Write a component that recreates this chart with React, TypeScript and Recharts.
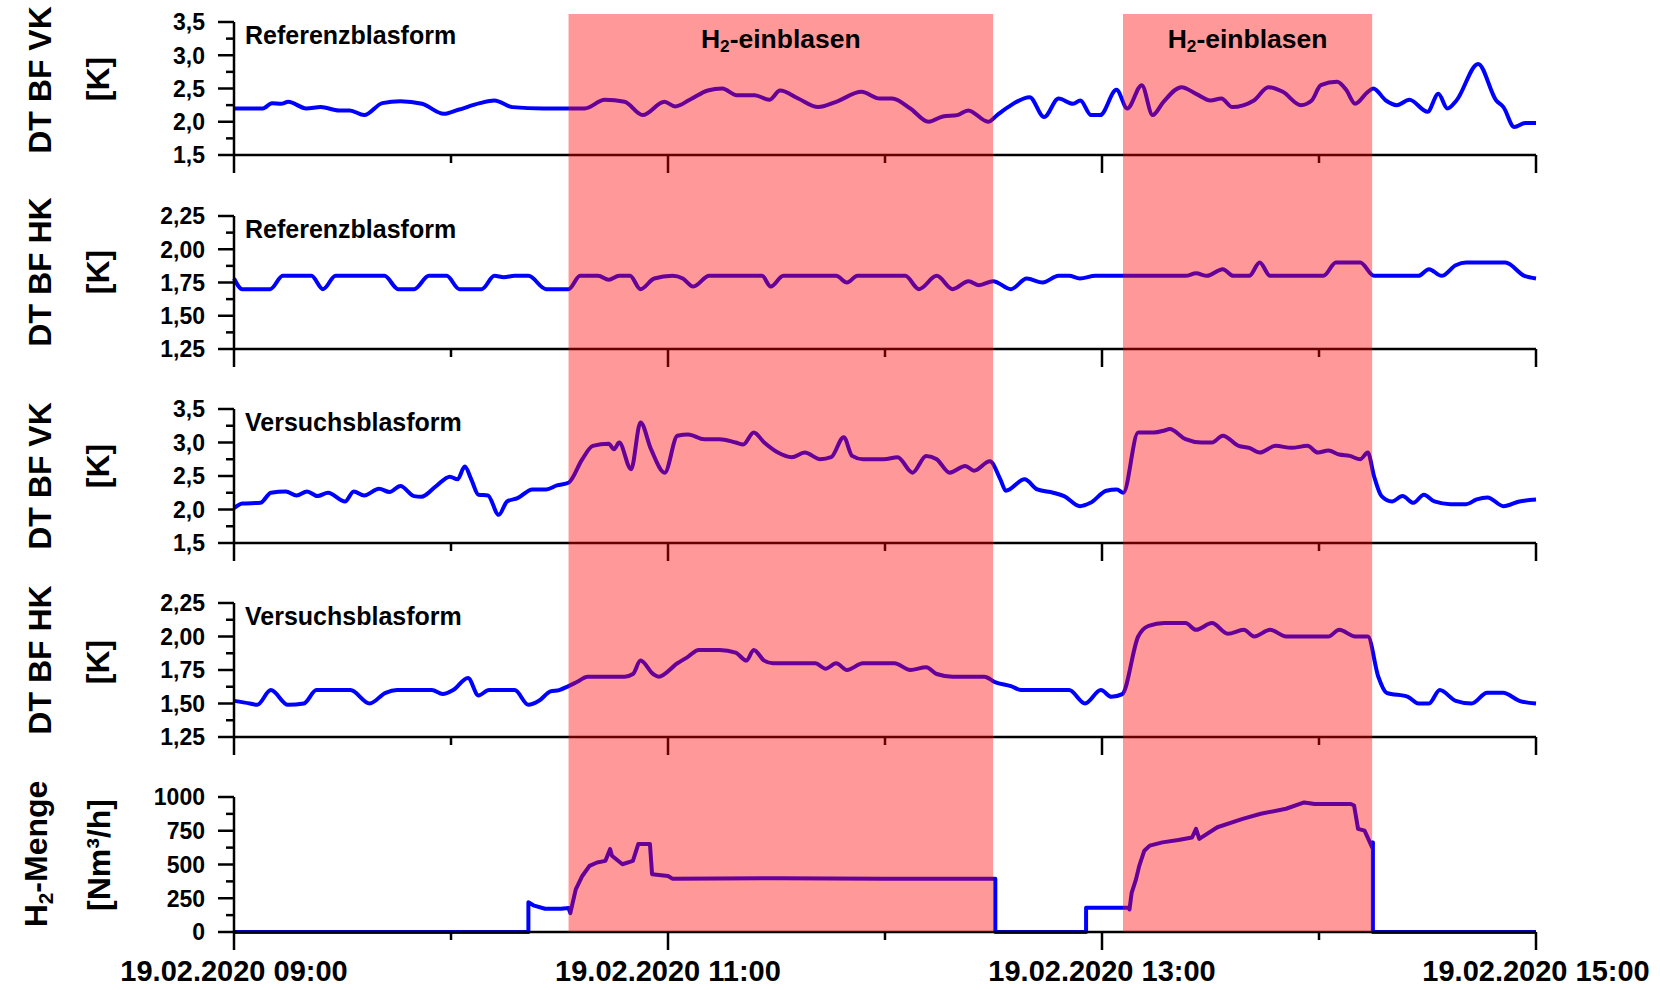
import React from 'react';
import { LineChart, Line, XAxis, YAxis, ComposedChart, ReferenceArea } from 'recharts';

const FONT = "'Liberation Sans', Arial, Helvetica, sans-serif";
const W = 1660;
const H = 990;
const PLOT_LEFT = 234;
const PLOT_RIGHT = 1536;
const X_AXIS_H = 30;
const Y_AXIS_W = 60;

// time axis: minutes after 19.02.2020 09:00
const timeTicks = [0, 60, 120, 180, 240, 300, 360];
const timeLabels = ['19.02.2020 09:00', '', '19.02.2020 11:00', '', '19.02.2020 13:00', '', '19.02.2020 15:00'];

const vkTicks = [1.5, 1.75, 2, 2.25, 2.5, 2.75, 3, 3.25, 3.5];
const vkTickLabels = ['1,5', '', '2,0', '', '2,5', '', '3,0', '', '3,5'];
const hkTicks = [1.25, 1.375, 1.5, 1.625, 1.75, 1.875, 2, 2.125, 2.25];
const hkTickLabels = ['1,25', '', '1,50', '', '1,75', '', '2,00', '', '2,25'];
const h2Ticks = [0, 125, 250, 375, 500, 625, 750, 875, 1000];
const h2TickLabels = ['0', '', '250', '', '500', '', '750', '', '1000'];

// injection periods (minutes after 09:00)
const shadeStarts = [92.5, 245.8];
const shadeEnds = [209.9, 314.7];

// DT BF VK – Referenzblasform
const refVkT = [0, 8, 10.5, 13, 15, 20, 24, 29, 32, 36, 41, 46, 52, 58, 62, 68, 72, 77, 85.5, 90.5, 97, 102.5, 108, 113, 119, 122, 126, 131, 135, 139, 144, 148, 151, 156, 161.5, 166.5, 173.5, 178.5, 182, 187, 192, 196, 200, 203, 208.5, 211, 214, 220, 224, 228, 232, 234, 237, 239.5, 244, 247, 251, 254, 257, 262, 266, 270, 273, 276, 282, 286, 290, 295, 298, 300.5, 305, 307.5, 310, 313.5, 315, 318.5, 321.5, 325, 330, 333, 335.5, 338, 344, 349, 351, 354, 357, 360];
const refVkV = [2.2, 2.2, 2.28, 2.27, 2.3, 2.2, 2.22, 2.17, 2.17, 2.1, 2.28, 2.31, 2.27, 2.12, 2.18, 2.28, 2.32, 2.22, 2.2, 2.2, 2.2, 2.33, 2.3, 2.1, 2.3, 2.23, 2.33, 2.47, 2.5, 2.4, 2.4, 2.33, 2.47, 2.35, 2.22, 2.3, 2.45, 2.35, 2.35, 2.2, 2.0, 2.08, 2.1, 2.17, 2.0, 2.1, 2.22, 2.37, 2.07, 2.35, 2.27, 2.32, 2.1, 2.1, 2.48, 2.2, 2.55, 2.1, 2.3, 2.52, 2.42, 2.32, 2.35, 2.22, 2.32, 2.52, 2.45, 2.25, 2.32, 2.55, 2.6, 2.48, 2.27, 2.45, 2.5, 2.32, 2.25, 2.33, 2.15, 2.42, 2.2, 2.32, 2.87, 2.32, 2.22, 1.92, 1.98, 1.98];

// DT BF HK – Referenzblasform
const refHkT = [0, 2.3, 10, 13.5, 21.4, 24.6, 28.1, 41.6, 45.4, 49.8, 53.9, 58.8, 62.3, 68.5, 72, 74.6, 77.6, 81.4, 86.3, 92.5, 95.7, 100.7, 103.6, 106.5, 109.5, 112.4, 116.2, 121.2, 124.1, 127, 131.4, 146, 148.4, 151.9, 166.5, 169.5, 172.4, 185.6, 189.4, 194.3, 198.7, 203.1, 206, 209.9, 214.8, 219.2, 223.6, 228, 230.9, 233.9, 238.2, 263.1, 266, 269, 273.4, 276.3, 280.7, 283.6, 286.5, 301.2, 304.7, 311.4, 315.2, 327.5, 330.4, 333.9, 337.8, 340.7, 351.5, 356.8, 360];
const refHkV = [1.78, 1.7, 1.7, 1.8, 1.8, 1.7, 1.8, 1.8, 1.7, 1.7, 1.8, 1.8, 1.7, 1.7, 1.8, 1.79, 1.8, 1.8, 1.7, 1.7, 1.8, 1.8, 1.77, 1.8, 1.8, 1.7, 1.78, 1.8, 1.78, 1.72, 1.8, 1.8, 1.72, 1.8, 1.8, 1.75, 1.8, 1.8, 1.7, 1.8, 1.7, 1.76, 1.73, 1.76, 1.7, 1.78, 1.75, 1.8, 1.8, 1.78, 1.8, 1.8, 1.82, 1.8, 1.85, 1.8, 1.8, 1.9, 1.8, 1.8, 1.9, 1.9, 1.8, 1.8, 1.85, 1.8, 1.88, 1.9, 1.9, 1.8, 1.78];

// DT BF VK – Versuchsblasform
const versVkT = [0, 2.3, 7.3, 10.2, 14.3, 17.3, 20.2, 23.1, 26, 30.7, 33.1, 36, 40.1, 43, 46, 49.8, 51.8, 55.9, 59.7, 61.8, 63.8, 65.6, 67.6, 70.2, 73.2, 75.5, 78.4, 82.5, 86.3, 89.3, 92.5, 96.3, 99.2, 103.6, 105.1, 106.5, 109.8, 112.4, 115.3, 119.1, 122.6, 125.6, 130, 134.3, 138.7, 140.8, 143.7, 146.6, 150.4, 154.2, 157.8, 162.1, 165.1, 168.6, 170.9, 173.9, 179.7, 183.5, 187.6, 191.4, 194.3, 197.9, 202.2, 204.6, 209, 211.9, 213.4, 218.6, 222.1, 226.5, 229.5, 233.9, 236.8, 241.2, 244.1, 245.9, 250, 254.3, 257.3, 258.7, 263.1, 267.5, 270.4, 273.4, 277.8, 280.7, 283.6, 288, 292.4, 296.8, 299.7, 302.6, 305.6, 308.5, 311.4, 313.5, 315.2, 317.3, 320.2, 323.1, 326.1, 329, 331.9, 336.3, 340.7, 343.6, 346.6, 351, 355.4, 360];
const versVkV = [2.02, 2.09, 2.1, 2.25, 2.27, 2.21, 2.27, 2.2, 2.25, 2.12, 2.27, 2.21, 2.31, 2.26, 2.35, 2.2, 2.19, 2.35, 2.49, 2.45, 2.64, 2.45, 2.22, 2.21, 1.92, 2.12, 2.17, 2.3, 2.3, 2.36, 2.4, 2.75, 2.95, 2.98, 2.9, 3.0, 2.6, 3.3, 2.9, 2.55, 3.1, 3.12, 3.05, 3.05, 3.0, 2.97, 3.15, 3.0, 2.85, 2.78, 2.85, 2.75, 2.78, 3.08, 2.8, 2.75, 2.75, 2.78, 2.55, 2.8, 2.75, 2.55, 2.65, 2.58, 2.72, 2.45, 2.28, 2.45, 2.3, 2.25, 2.2, 2.05, 2.1, 2.28, 2.3, 2.25, 3.15, 3.15, 3.18, 3.2, 3.05, 3.0, 3.0, 3.1, 2.95, 2.92, 2.85, 2.95, 2.92, 2.95, 2.85, 2.88, 2.82, 2.8, 2.75, 2.85, 2.5, 2.2, 2.12, 2.2, 2.1, 2.22, 2.12, 2.08, 2.08, 2.15, 2.18, 2.05, 2.12, 2.15];

// DT BF HK – Versuchsblasform
const versHkT = [0, 4.4, 6.4, 10.2, 14.9, 19.3, 22.8, 32.2, 37.5, 41.9, 45.1, 54.7, 57.7, 60.6, 64.7, 67.6, 70.5, 77.6, 81.4, 84.3, 87.5, 89.9, 92.5, 94.8, 97.8, 108, 110.3, 112.4, 115.9, 117.4, 122.6, 125.6, 128.5, 134.3, 138.7, 141.7, 143.7, 146.6, 149, 160.7, 163.6, 166.5, 169.5, 173.9, 182.6, 187, 191.4, 194.3, 198.7, 207.5, 210.4, 214.8, 217.8, 230.9, 235.3, 239.7, 242.6, 245.6, 250, 252.9, 257.3, 263.1, 266, 270.4, 274.8, 279.2, 282.1, 286.5, 290.9, 302.6, 305.6, 310, 313.5, 316.4, 318.7, 324.6, 327.5, 330.4, 333.4, 337.8, 342.2, 346.5, 350.9, 355.4, 360];
const versHkV = [1.52, 1.5, 1.49, 1.6, 1.49, 1.5, 1.6, 1.6, 1.5, 1.58, 1.6, 1.6, 1.57, 1.6, 1.69, 1.56, 1.6, 1.6, 1.49, 1.52, 1.59, 1.6, 1.63, 1.66, 1.7, 1.7, 1.72, 1.82, 1.72, 1.7, 1.8, 1.85, 1.9, 1.9, 1.88, 1.82, 1.9, 1.82, 1.8, 1.8, 1.76, 1.8, 1.75, 1.8, 1.8, 1.75, 1.77, 1.72, 1.7, 1.7, 1.66, 1.63, 1.6, 1.6, 1.5, 1.6, 1.55, 1.57, 2.0, 2.08, 2.1, 2.1, 2.05, 2.1, 2.02, 2.05, 2.0, 2.05, 2.0, 2.0, 2.05, 2.0, 2.0, 1.7, 1.58, 1.55, 1.5, 1.5, 1.6, 1.52, 1.5, 1.58, 1.58, 1.52, 1.5];

// H2-Menge [Nm³/h]
const h2T = [0, 81.4, 81.4, 83, 86, 90.4, 92.5, 93, 94.5, 96.3, 98.3, 100.4, 102.7, 104, 104.5, 107.4, 110.3, 111.8, 115, 115.6, 120, 121.2, 150, 180, 210.5, 210.5, 235.6, 235.6, 247.3, 247.6, 248.2, 249.4, 250.3, 251.7, 253.2, 256.7, 261.1, 264.9, 266, 266.9, 271.9, 278.9, 283.9, 290.9, 295.9, 298.8, 308.8, 309.7, 310.8, 312.6, 314.7, 314.9, 314.9, 360];
const h2V = [0, 0, 220, 195, 172, 172, 178, 140, 316, 415, 490, 515, 527, 614, 565, 502, 527, 652, 652, 428, 415, 395, 398, 395, 395, 0, 0, 180, 180, 167, 290, 390, 490, 602, 640, 664, 681, 700, 764, 690, 776, 838, 876, 913, 960, 948, 948, 937, 764, 751, 627, 664, 0, 0];

type Seg = { text: string; sub?: boolean };

interface PanelDef {
  top: number;
  bottom: number;
  domain: [number, number];
  ticks: number[];
  tickLabels: string[];
  title: Seg[];
  unit: Seg[];
  titleX: number;
  unitX: number;
  titleY: number;
  unitY: number;
  note?: string;
  t: number[];
  v: number[];
  curve: 'linear' | 'monotone';
  showXLabels: boolean;
}

const panels: PanelDef[] = [
  { top: 22, bottom: 155, domain: [1.5, 3.5], ticks: vkTicks, tickLabels: vkTickLabels, title: [{ text: 'DT BF VK' }], unit: [{ text: '[K]' }], titleX: 40, unitX: 98, titleY: 80, unitY: 79, note: 'Referenzblasform', t: refVkT, v: refVkV, curve: 'monotone', showXLabels: false },
  { top: 216, bottom: 349, domain: [1.25, 2.25], ticks: hkTicks, tickLabels: hkTickLabels, title: [{ text: 'DT BF HK' }], unit: [{ text: '[K]' }], titleX: 40, unitX: 98, titleY: 272, unitY: 272, note: 'Referenzblasform', t: refHkT, v: refHkV, curve: 'monotone', showXLabels: false },
  { top: 409, bottom: 543, domain: [1.5, 3.5], ticks: vkTicks, tickLabels: vkTickLabels, title: [{ text: 'DT BF VK' }], unit: [{ text: '[K]' }], titleX: 40, unitX: 98, titleY: 476, unitY: 466, note: 'Versuchsblasform', t: versVkT, v: versVkV, curve: 'monotone', showXLabels: false },
  { top: 603, bottom: 737, domain: [1.25, 2.25], ticks: hkTicks, tickLabels: hkTickLabels, title: [{ text: 'DT BF HK' }], unit: [{ text: '[K]' }], titleX: 40, unitX: 98, titleY: 660, unitY: 662, note: 'Versuchsblasform', t: versHkT, v: versHkV, curve: 'monotone', showXLabels: false },
  { top: 797, bottom: 932, domain: [0, 1000], ticks: h2Ticks, tickLabels: h2TickLabels, title: [{ text: 'H' }, { text: '2', sub: true }, { text: '-Menge' }], unit: [{ text: '[Nm³/h]' }], titleX: 36, unitX: 99, titleY: 854, unitY: 855, t: h2T, v: h2V, curve: 'linear', showXLabels: true },
];

function renderSegs(segs: Seg[], size: number) {
  const out: React.ReactNode[] = [];
  let shift = 0;
  segs.forEach((s, i) => {
    if (s.sub) {
      const d = size * 0.28;
      out.push(<tspan key={i} fontSize={size * 0.65} dy={d - shift}>{s.text}</tspan>);
      shift = d;
    } else {
      out.push(<tspan key={i} fontSize={size} dy={-shift}>{s.text}</tspan>);
      shift = 0;
    }
  });
  return out;
}

function makeXTick(showLabels: boolean) {
  return (props: any) => {
    const { x, y, payload } = props;
    const i = timeTicks.indexOf(payload.value);
    const label = timeLabels[i] ?? '';
    const major = i % 2 === 0;
    return (
      <g>
        <line x1={x} y1={y} x2={x} y2={y + (major ? 18 : 8)} stroke="#000" strokeWidth={2.5} />
        {showLabels && label ? (
          <text x={x} y={y + 49} textAnchor="middle" fontFamily={FONT} fontWeight="bold" fontSize={29} fill="#000">
            {label}
          </text>
        ) : null}
      </g>
    );
  };
}

function makeYTick(ticks: number[], labels: string[]) {
  return (props: any) => {
    const { x, y, payload } = props;
    const i = ticks.indexOf(payload.value);
    const label = labels[i] ?? '';
    const major = label !== '';
    return (
      <g>
        <line x1={x} y1={y} x2={x - (major ? 16 : 8)} y2={y} stroke="#000" strokeWidth={2.5} />
        {major ? (
          <text x={x - 29} y={y} dy="0.36em" textAnchor="end" fontFamily={FONT} fontWeight="bold" fontSize={23} fill="#000">
            {label}
          </text>
        ) : null}
      </g>
    );
  };
}

function makeTitles(p: PanelDef) {
  return () => (
    <g fontFamily={FONT} fontWeight="bold" fill="#000">
      <text transform={`rotate(-90 ${p.titleX} ${p.titleY})`} x={p.titleX} y={p.titleY} textAnchor="middle" dominantBaseline="central" fontSize={32}>
        {renderSegs(p.title, 32)}
      </text>
      <text transform={`rotate(-90 ${p.unitX} ${p.unitY})`} x={p.unitX} y={p.unitY} textAnchor="middle" dominantBaseline="central" fontSize={32}>
        {renderSegs(p.unit, 32)}
      </text>
      {p.note ? (
        <text x={245} y={p.top + 13} dominantBaseline="central" fontSize={25}>
          {p.note}
        </text>
      ) : null}
    </g>
  );
}

function Panel({ p }: { p: PanelDef }) {
  const data = p.t.map((t, i) => ({ t, v: p.v[i] }));
  return (
    <div style={{ position: 'absolute', left: 0, top: 0 }}>
      <LineChart
        width={W}
        height={H}
        data={data}
        margin={{ top: p.top, bottom: H - p.bottom - X_AXIS_H, left: PLOT_LEFT - Y_AXIS_W, right: W - PLOT_RIGHT }}
      >
        <XAxis
          dataKey="t"
          type="number"
          domain={[0, 360]}
          ticks={timeTicks}
          interval={0}
          height={X_AXIS_H}
          tickSize={0}
          tickMargin={0}
          tickLine={false}
          axisLine={{ stroke: '#000', strokeWidth: 2.5 }}
          tick={makeXTick(p.showXLabels)}
        />
        <YAxis
          type="number"
          domain={p.domain}
          ticks={p.ticks}
          interval={0}
          width={Y_AXIS_W}
          tickSize={0}
          tickMargin={0}
          tickLine={false}
          axisLine={{ stroke: '#000', strokeWidth: 2.5 }}
          tick={makeYTick(p.ticks, p.tickLabels)}
          label={makeTitles(p)}
        />
        <Line
          dataKey="v"
          type={p.curve}
          stroke="#0000ff"
          strokeWidth={4}
          strokeLinejoin="round"
          dot={false}
          activeDot={false}
          isAnimationActive={false}
        />
      </LineChart>
    </div>
  );
}

const overlayData = [{ t: 0, v: 0 }, { t: 360, v: 1 }];

function renderShadeLabel(props: any) {
  const vb = props.viewBox || {};
  const cx = (vb.x ?? 0) + (vb.width ?? 0) / 2;
  return (
    <text x={cx} y={39} textAnchor="middle" dominantBaseline="central" fontFamily={FONT} fontWeight="bold" fill="#000">
      {renderSegs([{ text: 'H' }, { text: '2', sub: true }, { text: '-einblasen' }], 26.5)}
    </text>
  );
}

export default function App() {
  return (
    <div style={{ position: 'absolute', left: 0, top: 0, width: W, height: H, background: '#fff' }}>
      {panels.map((p, i) => (
        <Panel key={i} p={p} />
      ))}
      <div style={{ position: 'absolute', left: 0, top: 0, pointerEvents: 'none' }}>
        <ComposedChart width={W} height={H} data={overlayData} margin={{ top: 14, bottom: H - 932, left: PLOT_LEFT, right: W - PLOT_RIGHT }}>
          <XAxis dataKey="t" type="number" domain={[0, 360]} hide />
          <YAxis type="number" domain={[0, 1]} hide />
          <Line dataKey="v" stroke="none" strokeWidth={0} dot={false} activeDot={false} isAnimationActive={false} />
          {shadeStarts.map((s, i) => (
            <ReferenceArea
              key={i}
              x1={s}
              x2={shadeEnds[i]}
              y1={0}
              y2={1}
              fill="#ff0000"
              fillOpacity={0.4}
              stroke="none"
              ifOverflow="visible"
              label={renderShadeLabel}
            />
          ))}
        </ComposedChart>
      </div>
    </div>
  );
}
